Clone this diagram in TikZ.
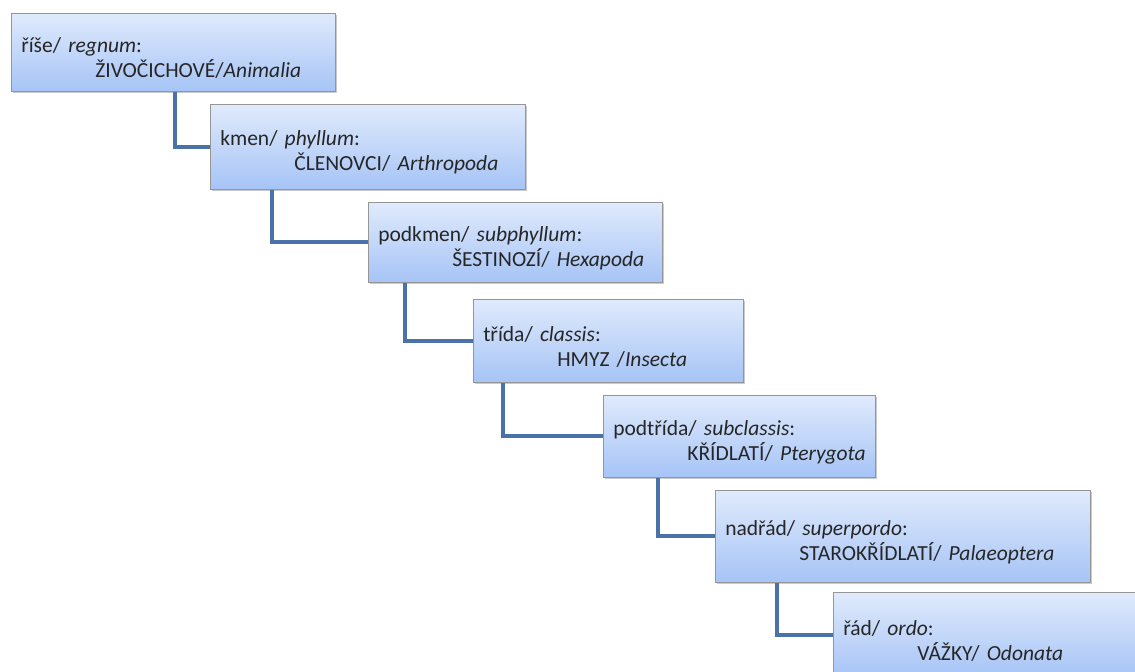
\documentclass[tikz,border=0pt]{standalone}
\usepackage{fontspec}
\setmainfont{Carlito}
\usepackage{tikz}
\usetikzlibrary{shadows}
\definecolor{linkblue}{RGB}{74,114,168}
\definecolor{boxtop}{RGB}{224,234,252}
\definecolor{boxbottom}{RGB}{166,196,246}
\definecolor{boxline}{RGB}{150,150,150}

\begin{document}
\begin{tikzpicture}[
  x=0.025cm, y=-0.025cm,
  taxon/.style={draw=boxline, top color=boxtop, bottom color=boxbottom,
                anchor=north west, align=left, inner xsep=0.25cm, inner ysep=0pt,
                font=\fontsize{15.3}{17.8}\selectfont, text=black!85,
                execute at begin node={\rule{0pt}{19pt}},
                drop shadow={shadow xshift=1pt, shadow yshift=-1.5pt, opacity=0.35, fill=black!60}},
  link/.style={draw=linkblue, line width=0.1cm}
]
\clip (0,0) rectangle (1135,671);
\node[taxon, text width=7.6cm,   minimum height=1.95cm]  (realm)      at (11,13)   {ř\'{\i}še/ \textit{regnum}:\\\hspace*{1.85cm}\mbox{ŽIVOČICHOVÉ/\textit{Animalia}}};
\node[taxon, text width=7.375cm, minimum height=2.125cm] (phylum)     at (210,104) {kmen/ \textit{phyllum}:\\\hspace*{1.85cm}\mbox{ČLENOVCI/ \textit{Arthropoda}}};
\node[taxon, text width=6.85cm,  minimum height=2.0cm]   (subphylum)  at (368,202) {podkmen/ \textit{subphyllum}:\\\hspace*{1.85cm}\mbox{ŠESTINOZÍ/ \textit{Hexapoda}}};
\node[taxon, text width=6.25cm,  minimum height=2.075cm] (class)      at (473,299) {třída/ \textit{classis}:\\\hspace*{1.85cm}\mbox{HMYZ /\textit{Insecta}}};
\node[taxon, text width=6.3cm,   minimum height=2.05cm]  (subclass)   at (603,395) {podtřída/ \textit{subclassis}:\\\hspace*{1.85cm}\mbox{KŘÍDLATÍ/ \textit{Pterygota}}};
\node[taxon, text width=8.875cm, minimum height=2.3cm]   (superorder) at (715,490) {nadřád/ \textit{superpordo}:\\\hspace*{1.85cm}\mbox{STAROKŘÍDLATÍ/ \textit{Palaeoptera}}};
\node[taxon, text width=7.75cm,  minimum height=2.125cm] (order)      at (833,592) {řád/ \textit{ordo}:\\\hspace*{1.85cm}\mbox{VÁŽKY/ \textit{Odonata}}};

\draw[link] (realm.south west)      ++(164,0) |- (phylum.west);
\draw[link] (phylum.south west)     ++(62,0)  |- (subphylum.west);
\draw[link] (subphylum.south west)  ++(37,0)  |- (class.west);
\draw[link] (class.south west)      ++(30,0)  |- (subclass.west);
\draw[link] (subclass.south west)   ++(55,0)  |- (superorder.west);
\draw[link] (superorder.south west) ++(62,0)  |- (order.west);
\end{tikzpicture}
\end{document}
